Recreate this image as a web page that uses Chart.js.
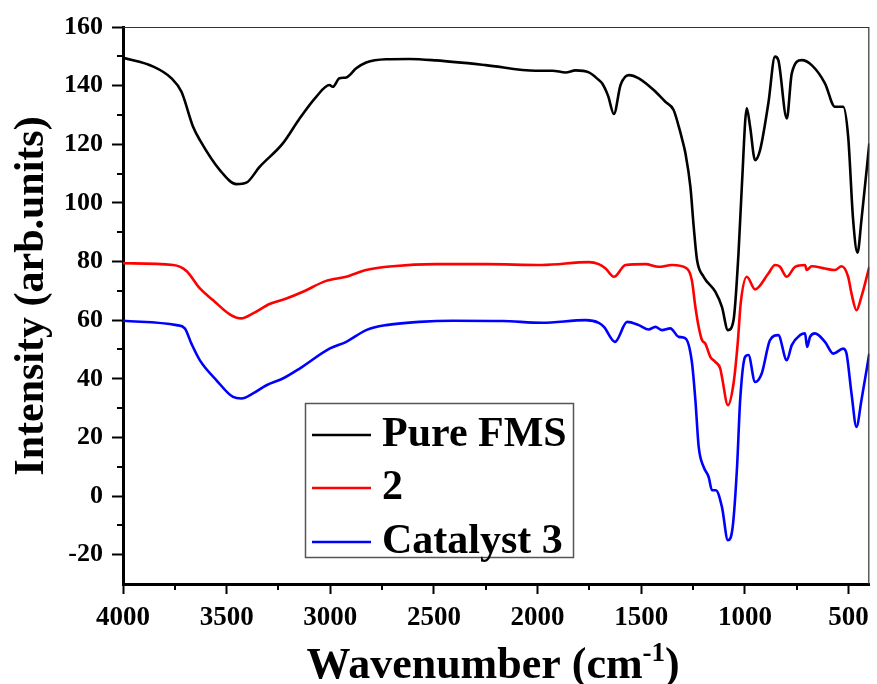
<!DOCTYPE html>
<html lang="en">
<head>
<meta charset="UTF-8">
<script src="https://cdn.jsdelivr.net/npm/chart.js"></script>
<title>FTIR spectra</title>
<style>
  body { margin: 0; background: #fff; }
</style>
</head>
<body>
<canvas id="myChart" width="877" height="684"></canvas>
<script>
// series names and colours
const seriesNames = ['Pure FMS', '2', 'Catalyst 3'];
const seriesColors = ['#000000', '#ff0000', '#0000ff'];

// axis ticks
const xTicks = [4000, 3500, 3000, 2500, 2000, 1500, 1000, 500];
const xMinorTicks = [3750, 3250, 2750, 2250, 1750, 1250, 750];
const yTicks = [-20, 0, 20, 40, 60, 80, 100, 120, 140, 160];
const yMinorTicks = [-10, 10, 30, 50, 70, 90, 110, 130, 150];

// Pure FMS (wavenumber, intensity)
const fmsWn = [4000, 3854, 3766, 3718, 3662, 3629, 3533, 3453, 3405, 3341, 3229, 3148, 3068, 3004, 2988, 2956, 2923, 2875, 2827, 2731, 2619, 2490, 2250, 2009, 1929, 1865, 1817, 1753, 1705, 1689, 1660, 1632, 1600, 1560, 1512, 1440, 1384, 1344, 1319, 1304, 1287, 1263, 1247, 1231, 1199, 1143, 1111, 1082, 1055, 1031, 1015, 991, 975, 951, 927, 887, 855, 839, 798, 774, 726, 678, 614, 566, 526, 502, 478, 457, 438, 400];
const fmsVal = [149.5, 146.5, 142.5, 137.9, 126, 121.4, 111.2, 106.4, 106.9, 112.3, 120.3, 128.8, 136.2, 140.2, 139.6, 142.5, 142.8, 145.9, 147.9, 149, 149.1, 148.6, 147, 145.1, 145.1, 144.5, 145.2, 144.5, 141.9, 140.8, 136.5, 130.3, 140.2, 143.6, 142.5, 138.5, 134.5, 131.7, 126, 122, 116.9, 105.5, 91.8, 80.5, 74.8, 69.7, 64.5, 56.6, 60, 82.8, 105.5, 132.3, 126, 114.6, 118, 134, 149.9, 148.7, 128.8, 144.2, 148.7, 147, 140.8, 132.8, 132.8, 122.6, 94.1, 83, 94.1, 120.3];

// sample 2
const s2Wn = [4000, 3758, 3694, 3629, 3565, 3485, 3429, 3373, 3293, 3212, 3132, 3020, 2923, 2827, 2699, 2490, 2250, 1978, 1753, 1705, 1672, 1632, 1576, 1480, 1416, 1352, 1280, 1256, 1239, 1223, 1207, 1191, 1167, 1143, 1119, 1111, 1082, 1055, 1035, 1020, 991, 951, 887, 855, 831, 798, 758, 710, 702, 678, 614, 566, 534, 502, 486, 462, 438, 400];
const s2Val = [79.4, 78.8, 76.8, 70.8, 66.8, 62, 60.6, 62.3, 65.5, 67.4, 69.7, 73.4, 74.8, 77.1, 78.4, 79.1, 79.1, 78.8, 79.8, 79.1, 77.6, 74.8, 78.8, 79.1, 78.2, 78.8, 77.6, 73.6, 64.5, 57.7, 53.2, 52, 47.5, 45.8, 43.5, 40.7, 31, 38.4, 52, 66, 74.8, 70.5, 75.9, 78.8, 78.2, 74.8, 78.2, 78.8, 77.1, 78.4, 77.6, 77.1, 78.4, 74.8, 69.1, 63.4, 68, 78.2];

// Catalyst 3
const c3Wn = [4000, 3742, 3702, 3670, 3629, 3549, 3469, 3429, 3373, 3308, 3229, 3148, 3004, 2923, 2827, 2731, 2571, 2410, 2170, 1978, 1768, 1705, 1680, 1627, 1568, 1512, 1464, 1432, 1400, 1360, 1319, 1287, 1256, 1239, 1223, 1199, 1175, 1159, 1140, 1111, 1082, 1059, 1038, 1023, 999, 983, 951, 919, 879, 839, 798, 774, 734, 710, 700, 686, 662, 614, 574, 526, 510, 486, 462, 438, 400];
const c3Val = [59.8, 58.3, 57.2, 52, 46.3, 39.5, 33.8, 33.3, 35, 37.8, 40.1, 43.5, 50.3, 52.6, 56.6, 58.3, 59.4, 59.8, 59.7, 59.1, 60, 59.1, 57.7, 52.6, 59.4, 58.3, 56.8, 57.7, 56.6, 57.2, 54.3, 53.8, 45.8, 32.7, 16.8, 9.9, 6.5, 2, 2, -3.7, -15.1, -10.5, 9.9, 32.7, 47.5, 48.1, 38.9, 41.8, 53.2, 54.9, 46.3, 51.5, 54.9, 55.5, 50.9, 54.3, 55.5, 52.6, 48.6, 50.3, 48.6, 35, 23.6, 32.7, 48.6];

const fontFamily = '"Times New Roman", "Liberation Serif", serif';

function toPoints(wn, val) {
  return wn.map((w, i) => ({ x: w, y: val[i] }));
}

// white background, frame, minor ticks, titles, legend
const extras = {
  id: 'extras',
  beforeDraw(chart) {
    const ctx = chart.ctx;
    ctx.save();
    ctx.fillStyle = '#fff';
    ctx.fillRect(0, 0, chart.width, chart.height);
    ctx.restore();
  },
  afterDraw(chart) {
    const ctx = chart.ctx;
    const a = chart.chartArea;
    const xs = chart.scales.x;
    const ys = chart.scales.y;
    ctx.save();

    // thin top / right frame
    ctx.strokeStyle = '#333';
    ctx.lineWidth = 1.2;
    ctx.beginPath();
    ctx.moveTo(a.left, a.top + 0.5);
    ctx.lineTo(a.right - 0.5, a.top + 0.5);
    ctx.lineTo(a.right - 0.5, a.bottom);
    ctx.stroke();

    // minor ticks
    ctx.strokeStyle = '#000';
    ctx.lineWidth = 2;
    ctx.beginPath();
    yMinorTicks.forEach(v => {
      const py = Math.round(ys.getPixelForValue(v));
      ctx.moveTo(a.left, py);
      ctx.lineTo(a.left - 6, py);
    });
    xMinorTicks.forEach(v => {
      const px = Math.round(xs.getPixelForValue(v));
      ctx.moveTo(px, a.bottom);
      ctx.lineTo(px, a.bottom + 6);
    });
    ctx.stroke();

    // y title
    ctx.fillStyle = '#000';
    ctx.font = 'bold 42px ' + fontFamily;
    ctx.save();
    ctx.translate(43, 296);
    ctx.rotate(-Math.PI / 2);
    ctx.textAlign = 'center';
    ctx.textBaseline = 'alphabetic';
    ctx.fillText('Intensity (arb.units)', 0, 0);
    ctx.restore();

    // x title with superscript
    const main = 'Wavenumber (cm';
    const sup = '-1';
    const close = ')';
    ctx.textAlign = 'left';
    ctx.textBaseline = 'alphabetic';
    ctx.font = 'bold 44px ' + fontFamily;
    const w1 = ctx.measureText(main).width;
    const w3 = ctx.measureText(close).width;
    ctx.font = 'bold 27px ' + fontFamily;
    const w2 = ctx.measureText(sup).width;
    let tx = (a.left + a.right) / 2 - (w1 + w2 + w3) / 2 - 3;
    const base = 678;
    ctx.font = 'bold 44px ' + fontFamily;
    ctx.fillText(main, tx, base);
    ctx.font = 'bold 27px ' + fontFamily;
    ctx.fillText(sup, tx + w1, base - 17);
    ctx.font = 'bold 44px ' + fontFamily;
    ctx.fillText(close, tx + w1 + w2, base);

    // legend box
    ctx.strokeStyle = '#555';
    ctx.lineWidth = 1.5;
    ctx.strokeRect(305.5, 403.5, 268, 154);
    const rowY = [435, 488, 542];
    chart.data.datasets.forEach((ds, i) => {
      ctx.strokeStyle = ds.borderColor;
      ctx.lineWidth = 2.5;
      ctx.beginPath();
      ctx.moveTo(312, rowY[i]);
      ctx.lineTo(371, rowY[i]);
      ctx.stroke();
      ctx.fillStyle = '#000';
      ctx.font = 'bold 42px ' + fontFamily;
      ctx.fillText(ds.label, 382, rowY[i] + 11);
    });

    ctx.restore();
  }
};

const ctx = document.getElementById('myChart');
new Chart(ctx, {
  type: 'line',
  data: {
    datasets: [
      { label: seriesNames[0], data: toPoints(fmsWn, fmsVal), borderColor: seriesColors[0] },
      { label: seriesNames[1], data: toPoints(s2Wn, s2Val), borderColor: seriesColors[1] },
      { label: seriesNames[2], data: toPoints(c3Wn, c3Val), borderColor: seriesColors[2] }
    ].map(d => Object.assign(d, {
      borderWidth: 2.6,
      pointRadius: 0,
      fill: false,
      cubicInterpolationMode: 'monotone'
    }))
  },
  options: {
    responsive: false,
    animation: false,
    layout: { padding: { top: 27, right: 6, left: 0, bottom: 0 } },
    plugins: {
      legend: { display: false },
      tooltip: { enabled: false }
    },
    scales: {
      x: {
        type: 'linear',
        reverse: true,
        min: 400,
        max: 4000,
        afterBuildTicks: s => { s.ticks = xTicks.map(v => ({ value: v })); },
        afterFit: s => { s.height = 100; },
        grid: { drawOnChartArea: false, tickLength: 10, tickWidth: 2, tickColor: '#000' },
        border: { display: true, color: '#000', width: 3 },
        ticks: {
          color: '#000',
          autoSkip: false,
          maxRotation: 0,
          padding: 8,
          font: { family: fontFamily, size: 27, weight: 'bold' },
          callback: v => String(v)
        }
      },
      y: {
        type: 'linear',
        min: -30,
        max: 160,
        afterBuildTicks: s => { s.ticks = yTicks.map(v => ({ value: v })); },
        afterFit: s => { s.width = 123; },
        grid: { drawOnChartArea: false, tickLength: 11, tickWidth: 2, tickColor: '#000' },
        border: { display: true, color: '#000', width: 3 },
        ticks: {
          color: '#000',
          padding: 9,
          font: { family: fontFamily, size: 26, weight: 'bold' },
          callback: v => String(v)
        }
      }
    }
  },
  plugins: [extras]
});
</script>
</body>
</html>
